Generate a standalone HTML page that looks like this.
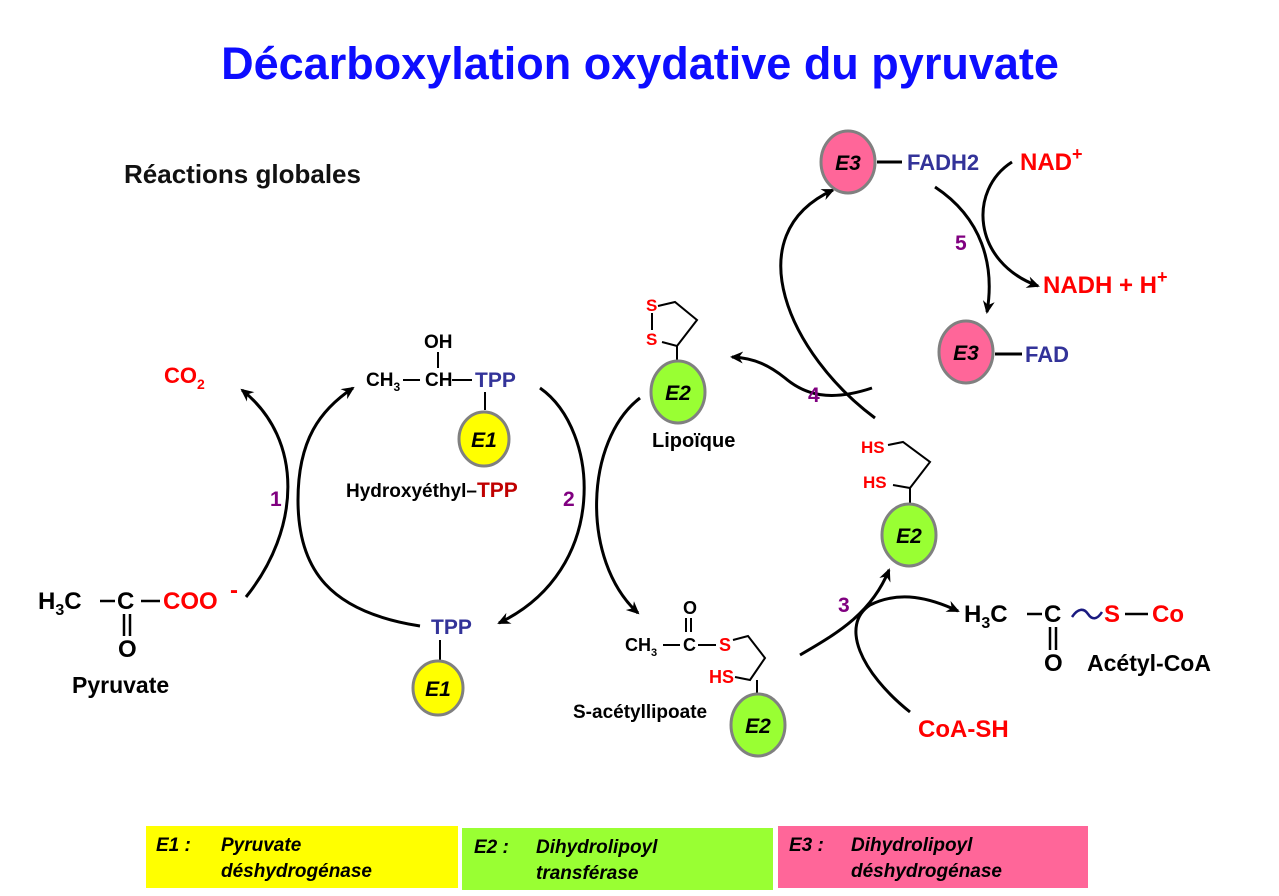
<!DOCTYPE html>
<html><head><meta charset="utf-8"><style>
html,body{margin:0;padding:0;background:#fff;}
svg{display:block;font-family:"Liberation Sans",Arial,sans-serif;}
.b{font-weight:bold;}
</style></head><body>
<svg width="1279" height="896" viewBox="0 0 1279 896" xmlns="http://www.w3.org/2000/svg">
<defs>
<marker id="a" markerWidth="14" markerHeight="14" refX="11" refY="6" orient="auto" markerUnits="userSpaceOnUse"><path d="M0,0 L13,6 L0,12 L4,6 z" fill="#000"/></marker>
</defs>
<text x="640" y="79" text-anchor="middle" class="b" font-size="45" fill="#0d0dff">Décarboxylation oxydative du pyruvate</text>
<text x="124" y="183" class="b" font-size="26" fill="#111">Réactions globales</text>

<g fill="none" stroke="#000" stroke-width="3">
<path d="M246,597 C300,530 305,440 242,390" marker-end="url(#a)"/>
<path d="M420,626 C330,612 298,570 298,500 C298,440 320,410 353,388" marker-end="url(#a)"/>
<path d="M540,388 C600,430 610,570 499,623" marker-end="url(#a)"/>
<path d="M640,398 C585,440 580,560 638,613" marker-end="url(#a)"/>
<path d="M800,655 C840,632 872,612 889,570" marker-end="url(#a)"/>
<path d="M910,712 C860,672 840,625 870,605 C900,590 930,598 958,611" marker-end="url(#a)"/>
<path d="M872,388 C830,402 805,395 785,378 C770,366 755,358 732,357" marker-end="url(#a)"/>
<path d="M875,418 C790,355 735,235 833,190" marker-end="url(#a)"/>
<path d="M935,187 C982,218 995,265 987,312" marker-end="url(#a)"/>
<path d="M1012,162 C968,190 972,262 1038,286" marker-end="url(#a)"/>
</g>

<g class="b" font-size="21" fill="#800080">
<text x="270" y="506">1</text>
<text x="563" y="506">2</text>
<text x="838" y="612">3</text>
<text x="808" y="402">4</text>
<text x="955" y="250">5</text>
</g>

<g class="b" font-size="24">
<text x="38" y="609">H<tspan font-size="16" dy="6">3</tspan><tspan dy="-6">C</tspan></text>
<text x="117" y="609">C</text>
<text x="163" y="609" fill="#f00">COO</text>
<text x="230" y="598" fill="#f00">-</text>
<text x="118" y="657">O</text>
<text x="72" y="693" font-size="23">Pyruvate</text>
</g>
<g stroke="#000" stroke-width="2.5">
<line x1="100" y1="601" x2="115" y2="601"/><line x1="141" y1="601" x2="160" y2="601"/>
<line x1="124" y1="614" x2="124" y2="636"/><line x1="130" y1="614" x2="130" y2="636"/>
</g>
<text x="164" y="383" class="b" font-size="22" fill="#f00">CO<tspan font-size="14" dy="6">2</tspan></text>

<g font-size="19" font-weight="bold">
<text x="424" y="348">OH</text>
<text x="366" y="386">CH<tspan font-size="12" dy="5">3</tspan></text>
<text x="425" y="386">CH</text>
<text x="475" y="387" fill="#333399" font-size="21">TPP</text>
<text x="346" y="497" font-size="19">Hydroxyéthyl–<tspan fill="#c00000" font-size="21">TPP</tspan></text>
<text x="431" y="634" fill="#333399" font-size="21">TPP</text>
</g>
<g stroke="#000" stroke-width="2">
<line x1="403" y1="380" x2="420" y2="380"/><line x1="452" y1="380" x2="472" y2="380"/>
<line x1="438" y1="352" x2="438" y2="368"/>
<line x1="485" y1="392" x2="485" y2="410"/>
<line x1="440" y1="640" x2="440" y2="660"/>
</g>
<g stroke="#808080" stroke-width="3">
<ellipse cx="484" cy="439" rx="25" ry="27" fill="#ffff00"/>
<ellipse cx="438" cy="688" rx="25" ry="27" fill="#ffff00"/>
</g>
<text x="484" y="447" text-anchor="middle" class="b" font-style="italic" font-size="21">E1</text>
<text x="438" y="696" text-anchor="middle" class="b" font-style="italic" font-size="21">E1</text>

<g stroke="#000" stroke-width="2" fill="none">
<line x1="652" y1="313" x2="652" y2="330"/>
<polyline points="658,306 675,302 697,320 677,346 662,342"/>
<line x1="677" y1="346" x2="677" y2="362"/>
</g>
<text x="646" y="311" class="b" font-size="17" fill="#f00">S</text>
<text x="646" y="345" class="b" font-size="17" fill="#f00">S</text>
<ellipse cx="678" cy="392" rx="27" ry="31" fill="#99ff33" stroke="#808080" stroke-width="3"/>
<text x="678" y="400" text-anchor="middle" class="b" font-style="italic" font-size="21">E2</text>
<text x="652" y="447" class="b" font-size="20">Lipoïque</text>

<ellipse cx="848" cy="162" rx="27" ry="31" fill="#ff6699" stroke="#808080" stroke-width="3"/>
<text x="848" y="170" text-anchor="middle" class="b" font-style="italic" font-size="21">E3</text>
<line x1="877" y1="162" x2="902" y2="162" stroke="#000" stroke-width="3"/>
<text x="907" y="170" class="b" font-size="22" fill="#333399">FADH2</text>
<text x="1020" y="170" class="b" font-size="24" fill="#f00">NAD<tspan font-size="18" dy="-10">+</tspan></text>
<text x="1043" y="293" class="b" font-size="24" fill="#f00">NADH + H<tspan font-size="18" dy="-10">+</tspan></text>
<ellipse cx="966" cy="352" rx="27" ry="31" fill="#ff6699" stroke="#808080" stroke-width="3"/>
<text x="966" y="360" text-anchor="middle" class="b" font-style="italic" font-size="21">E3</text>
<line x1="995" y1="354" x2="1022" y2="354" stroke="#000" stroke-width="3"/>
<text x="1025" y="362" class="b" font-size="22" fill="#333399">FAD</text>

<g stroke="#000" stroke-width="2" fill="none">
<polyline points="888,445 903,442 930,462 910,488 893,485"/>
<line x1="910" y1="488" x2="910" y2="505"/>
</g>
<text x="861" y="453" class="b" font-size="17" fill="#f00">HS</text>
<text x="863" y="488" class="b" font-size="17" fill="#f00">HS</text>
<ellipse cx="909" cy="535" rx="27" ry="31" fill="#99ff33" stroke="#808080" stroke-width="3"/>
<text x="909" y="543" text-anchor="middle" class="b" font-style="italic" font-size="21">E2</text>

<g font-size="18" class="b">
<text x="683" y="614">O</text>
<text x="625" y="651">CH<tspan font-size="11" dy="5">3</tspan></text>
<text x="683" y="651">C</text>
<text x="719" y="651" fill="#f00">S</text>
<text x="709" y="683" fill="#f00">HS</text>
<text x="573" y="718" font-size="19">S-acétyllipoate</text>
</g>
<g stroke="#000" stroke-width="2" fill="none">
<line x1="663" y1="645" x2="680" y2="645"/><line x1="698" y1="645" x2="716" y2="645"/>
<line x1="686" y1="618" x2="686" y2="632"/><line x1="691" y1="618" x2="691" y2="632"/>
<polyline points="733,640 748,636 765,658 750,680 735,677"/>
<line x1="757" y1="680" x2="757" y2="695"/>
</g>
<ellipse cx="758" cy="725" rx="27" ry="31" fill="#99ff33" stroke="#808080" stroke-width="3"/>
<text x="758" y="733" text-anchor="middle" class="b" font-style="italic" font-size="21">E2</text>

<g class="b" font-size="24">
<text x="964" y="622">H<tspan font-size="16" dy="6">3</tspan><tspan dy="-6">C</tspan></text>
<text x="1044" y="622">C</text>
<text x="1104" y="622" fill="#f00">S</text>
<text x="1152" y="622" fill="#f00">Co</text>
<text x="1044" y="671">O</text>
<text x="1087" y="671" font-size="23">Acétyl-CoA</text>
<text x="918" y="737" fill="#f00" font-size="24">CoA-SH</text>
</g>
<g stroke="#000" stroke-width="2.5" fill="none">
<line x1="1027" y1="614" x2="1042" y2="614"/>
<line x1="1125" y1="614" x2="1148" y2="614"/>
<line x1="1050" y1="627" x2="1050" y2="650"/><line x1="1056" y1="627" x2="1056" y2="650"/>
<path d="M1072,617 C1078,608 1084,608 1088,614 C1092,620 1097,620 1102,612" stroke="#1a1a80"/>
</g>

<rect x="146" y="826" width="312" height="62" fill="#ffff00"/>
<rect x="462" y="828" width="311" height="62" fill="#99ff33"/>
<rect x="778" y="826" width="310" height="62" fill="#ff6699"/>
<g class="b" font-style="italic" font-size="19" fill="#000">
<text x="156" y="851">E1 :</text><text x="221" y="851">Pyruvate</text><text x="221" y="877">déshydrogénase</text>
<text x="474" y="853">E2 :</text><text x="536" y="853">Dihydrolipoyl</text><text x="536" y="879">transférase</text>
<text x="789" y="851">E3 :</text><text x="851" y="851">Dihydrolipoyl</text><text x="851" y="877">déshydrogénase</text>
</g>
</svg>
</body></html>
